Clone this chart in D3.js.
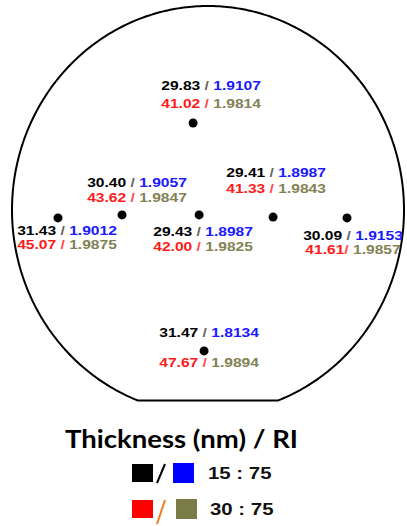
<!DOCTYPE html>
<html>
<head>
<meta charset="utf-8">
<script src="https://cdn.jsdelivr.net/npm/d3@7"></script>
<style>
  html, body { margin: 0; padding: 0; background: #fff; }
  svg { display: block; }
</style>
</head>
<body>
<svg id="chart" width="407" height="526"></svg>
<script>
// Measurement sites on a 150 mm wafer (coordinates in mm from wafer centre)
const sites   = ["T", "L1", "L2", "C", "R2", "R1", "B"];
const siteXmm = [-5.7, -57.4, -32.9, -3.4, 24.9, 53.2, -1.5];
const siteYmm = [32.0, -2.9, -1.8, -1.8, -2.6, -2.9, -51.8];

// Film thickness (nm) and refractive index for the two gas ratios
const thick15 = [29.83, 31.43, 30.40, 29.43, 29.41, 30.09, 31.47];
const ri15    = [1.9107, 1.9012, 1.9057, 1.8987, 1.8987, 1.9153, 1.8134];
const thick30 = [41.02, 45.07, 43.62, 42.00, 41.33, 41.61, 47.67];
const ri30    = [1.9814, 1.9875, 1.9847, 1.9825, 1.9843, 1.9857, 1.9894];

// Legend entries
const legendTitle  = "Thickness (nm) / RI";
const ratioLabels  = ["15 : 75", "30 : 75"];

const waferRadius = 75;   // mm
const flatY = -70;        // mm, primary flat

// Label placement around each site (px offsets from the dot)
const labelDx  = [18, 9, 15, 4, 3, 6, 5];
const line1Dy  = [-38, 13, -32, 17, -45, 18, -18];
const line2Dy  = [-20, 27, -17, 32, -29, 32, 12];
const sep30    = [" / ", " / ", " / ", " / ", " / ", "/ ", " / "];

const colors = {
  thick15: "#000000", ri15: "#1a1aff",
  thick30: "#ff1a1a", ri30: "#828255",
  sep15: "#666666", sep30: "#ff4d4d",
  sq15a: "#000000", sq15b: "#0000ff",
  sq30a: "#ff0000", sq30b: "#7b7b48",
  slash30: "#f07a20"
};

const svg = d3.select("#chart");

const x = d3.scaleLinear().domain([-waferRadius, waferRadius]).range([12, 404]);
const y = d3.scaleLinear().domain([waferRadius, -waferRadius]).range([6, 414]);

// Wafer outline: circle with a flat at the bottom
const flatHalf = Math.sqrt(waferRadius * waferRadius - flatY * flatY);
const a0 = Math.atan2(flatY, flatHalf);            // right end of flat
const a1 = Math.atan2(flatY, -flatHalf) + 2 * Math.PI; // left end of flat
const arcPts = d3.range(0, 401).map(i => {
  const a = a0 + (a1 - a0) * i / 400;
  return [waferRadius * Math.cos(a), waferRadius * Math.sin(a)];
});
const outline = d3.line().x(d => x(d[0])).y(d => y(d[1]));
svg.append("path")
  .attr("d", outline(arcPts) + "Z")
  .attr("fill", "none")
  .attr("stroke", "#000")
  .attr("stroke-width", 2);

// Site markers
svg.selectAll("circle.site")
  .data(sites)
  .join("circle")
  .attr("class", "site")
  .attr("cx", (d, i) => x(siteXmm[i]))
  .attr("cy", (d, i) => y(siteYmm[i]))
  .attr("r", 4.5)
  .attr("fill", "#000");

const stretch = 1.2;
const labelFont = "'Liberation Sans', Arial, sans-serif";

function valueLine(cx, cy, parts) {
  const g = svg.append("g")
    .attr("transform", `translate(${cx},${cy}) scale(${stretch},1)`);
  const t = g.append("text")
    .attr("text-anchor", "middle")
    .attr("dy", "0.35em")
    .attr("font-family", labelFont)
    .attr("font-weight", "bold")
    .attr("font-size", 13);
  parts.forEach(p => t.append("tspan").attr("fill", p[1]).text(p[0]));
}

sites.forEach((s, i) => {
  const px = x(siteXmm[i]) + labelDx[i];
  const py = y(siteYmm[i]);
  valueLine(px, py + line1Dy[i], [
    [thick15[i].toFixed(2), colors.thick15],
    [" / ", colors.sep15],
    [ri15[i].toFixed(4), colors.ri15]
  ]);
  valueLine(px, py + line2Dy[i], [
    [thick30[i].toFixed(2), colors.thick30],
    [sep30[i], colors.sep30],
    [ri30[i].toFixed(4), colors.ri30]
  ]);
});

// Legend
svg.append("text")
  .attr("x", 65).attr("y", 440).attr("dy", "0.35em")
  .attr("font-family", "Lato, 'Open Sans', sans-serif")
  .attr("font-weight", "bold")
  .attr("font-size", 24)
  .attr("textLength", 233)
  .attr("lengthAdjust", "spacingAndGlyphs")
  .attr("fill", "#000")
  .text(legendTitle);

const legendRows = [
  { y: 473, a: colors.sq15a, b: colors.sq15b, slash: "#000", bx: 173, tx: 208 },
  { y: 509, a: colors.sq30a, b: colors.sq30b, slash: colors.slash30, bx: 176, tx: 210 }
];
legendRows.forEach((r, i) => {
  svg.append("rect").attr("x", 132).attr("y", r.y - 9).attr("width", 21).attr("height", 18).attr("fill", r.a);
  svg.append("rect").attr("x", r.bx).attr("y", r.y - 10).attr("width", 21).attr("height", 20).attr("fill", r.b);
  svg.append("line")
    .attr("x1", 157).attr("y1", r.y + (i ? 15 : 10))
    .attr("x2", 165).attr("y2", r.y - 9)
    .attr("stroke", r.slash).attr("stroke-width", 2);
  svg.append("g")
    .attr("transform", `translate(${r.tx},${r.y}) scale(${stretch},1)`)
    .append("text")
    .attr("dy", "0.35em")
    .attr("font-family", labelFont)
    .attr("font-weight", "bold")
    .attr("font-size", 17)
    .attr("fill", "#111")
    .text(ratioLabels[i]);
});
</script>
</body>
</html>
